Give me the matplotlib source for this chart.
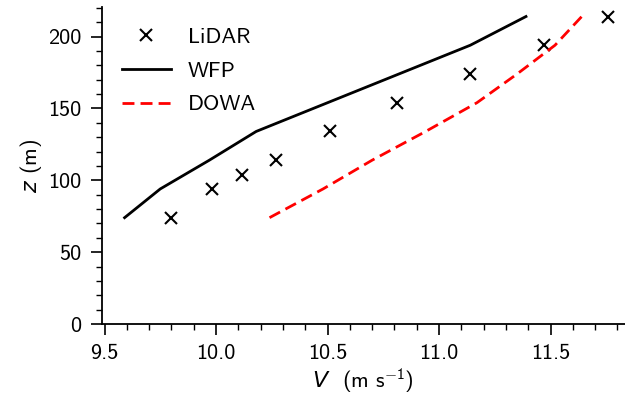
import matplotlib
matplotlib.use("Agg")
import matplotlib.pyplot as plt
from matplotlib.ticker import MultipleLocator, FormatStrFormatter

plt.rcParams['font.family'] = ['cmss10', 'DejaVu Sans']
plt.rcParams['mathtext.fontset'] = 'custom'
plt.rcParams['mathtext.rm'] = 'cmss10'
plt.rcParams['mathtext.it'] = 'DejaVu Sans:italic'
plt.rcParams['axes.formatter.use_mathtext'] = False
plt.rcParams['font.size'] = 16

# LiDAR observations
lidar_z = [74, 94, 104, 114, 134, 154, 174, 194, 214]
lidar_v = [9.80, 9.98, 10.115, 10.27, 10.51, 10.81, 11.14, 11.47, 11.76]

# WFP model
wfp_z = [74, 94, 104, 114, 134, 154, 174, 194, 214]
wfp_v = [9.59, 9.75, 9.86, 9.97, 10.18, 10.50, 10.82, 11.14, 11.39]

# DOWA model
dowa_z = [74, 94, 114, 134, 154, 174, 194, 214]
dowa_v = [10.24, 10.48, 10.70, 10.94, 11.17, 11.35, 11.52, 11.64]

fig = plt.figure(figsize=(6.25, 4.05), dpi=100)
ax = fig.add_axes([0.1624, 0.2, 0.8376, 0.783])

ax.plot(lidar_v, lidar_z, 'x', color='black', markersize=9, markeredgewidth=1.5, label='LiDAR')
ax.plot(wfp_v, wfp_z, '-', color='black', lw=2, label='WFP')
ax.plot(dowa_v, dowa_z, '--', color='red', lw=2, dashes=(4.3, 2.2), label='DOWA')

ax.set_xlim(9.4865, 11.834)
ax.set_ylim(0, 220.7)
ax.xaxis.set_major_locator(MultipleLocator(0.5))
ax.xaxis.set_minor_locator(MultipleLocator(0.1))
ax.yaxis.set_major_locator(MultipleLocator(50))
ax.yaxis.set_minor_locator(MultipleLocator(10))
ax.xaxis.set_major_formatter(FormatStrFormatter('%.1f'))
ax.yaxis.set_major_formatter(FormatStrFormatter('%d'))

for s in ['top', 'right']:
    ax.spines[s].set_visible(False)
for s in ['left', 'bottom']:
    ax.spines[s].set_linewidth(1.3)
ax.tick_params(which='major', direction='out', length=7.7, width=1.2, labelsize=16, pad=6.8)
ax.tick_params(which='minor', direction='out', length=4, width=1.0)

ax.set_xlabel(r'$V$  (m s$^{-1}$)', labelpad=2)
ax.set_ylabel(r'$z$ (m)', labelpad=3)

ax.legend(loc='upper left', frameon=False, fontsize=16, handlelength=2.2,
          handletextpad=0.75, labelspacing=0.64, borderaxespad=0.52,
          bbox_to_anchor=(0.0, 1.0))

fig.savefig('out.png', dpi=100)
